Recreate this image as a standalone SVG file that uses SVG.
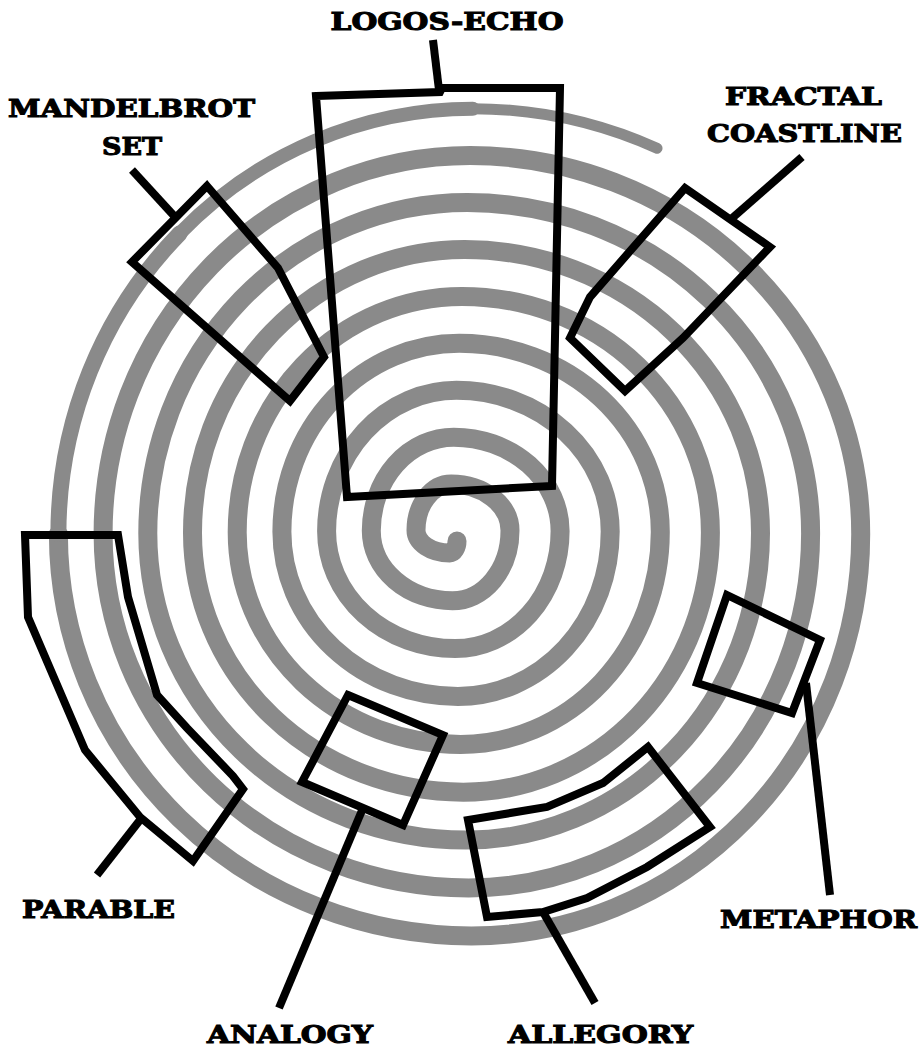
<svg xmlns="http://www.w3.org/2000/svg" width="923" height="1050" viewBox="0 0 923 1050">
<style>
.sp{fill:none;stroke:#8a8a8a;stroke-linecap:round;stroke-linejoin:round}
.box{fill:none;stroke:#000;stroke-width:8;stroke-linejoin:miter}
.con{fill:none;stroke:#000;stroke-width:8;stroke-linecap:butt}
.lbl{font-family:"DejaVu Serif","Liberation Serif",serif;font-weight:bold;font-size:25px;fill:#000;stroke:#000;stroke-width:1.1;text-anchor:middle}
</style>
<rect width="923" height="1050" fill="#fff"/>
<g id="spiral">
<path class="sp" stroke-width="19" d="M 457 541 A 7.2 11.9 0 0 1 449.8 552.9
A 33.8 22.6 0 0 1 416.0 530.3
A 35.1 46.2 0 0 1 451.1 484.1
A 58.9 46.5 0 0 1 510.0 530.6
A 57.5 70.15 0 0 1 452.5 600.75
A 81.2 69.95 0 0 1 371.3 530.8
A 82.5 93.6 0 0 1 453.8 437.2
A 106.3 93.9 0 0 1 560.1 531.1
A 104.9 117.5 0 0 1 455.2 648.6
A 128.6 117.3 0 0 1 326.6 531.3
A 129.9 141.0 0 0 1 456.5 390.3
A 153.7 141.2 0 0 1 610.2 531.5
A 152.3 165.0 0 0 1 457.9 696.5
A 176.0 164.7 0 0 1 281.9 531.8
A 177.3 188.5 0 0 1 459.2 343.3
A 201.1 188.7 0 0 1 660.3 532.0
A 199.7 212.4 0 0 1 460.6 744.4
A 223.4 212.2 0 0 1 237.2 532.2
A 224.7 235.8 0 0 1 461.9 296.4
A 248.5 236.1 0 0 1 710.4 532.5
A 247.1 259.7 0 0 1 463.3 792.2
A 270.8 259.5 0 0 1 192.5 532.7
A 272.1 283.2 0 0 1 464.6 249.5
A 295.9 283.5 0 0 1 760.5 533.0
A 294.5 307.1 0 0 1 466.0 840.1
A 318.2 306.9 0 0 1 147.8 533.2
A 319.6 330.6 0 0 1 467.4 202.6
A 343.2 330.8 0 0 1 810.6 533.4
A 341.9 354.6 0 0 1 468.7 888.0
A 365.6 354.3 0 0 1 103.1 533.7
A 367.0 378.1 0 0 1 470.1 155.6
A 390.6 378.3 0 0 1 860.7 533.9
A 389.3 402.0 0 0 1 471.4 935.9
A 413.0 401.8 0 0 1 58.4 534.1"/>
<path class="sp" stroke-width="16" d="M 58.4 534.1 A 414.4 425.4 0 0 1 179.8 233.3"/>
<path class="sp" stroke-width="14" d="M 179.8 233.3 A 414.4 425.4 0 0 1 472.8 108.7"/>
<path class="sp" stroke-width="11" d="M 472.8 108.7 A 438 425.7 0 0 1 657 148.3"/>
</g>
<g id="connectors">
<line class="con" x1="433" y1="40" x2="439" y2="90"/>
<line class="con" x1="132" y1="170" x2="176" y2="218"/>
<line class="con" x1="802" y1="157" x2="730" y2="220"/>
<line class="con" x1="140" y1="820" x2="97" y2="875"/>
<line class="con" x1="363" y1="808" x2="279" y2="1008"/>
<line class="con" x1="543" y1="912" x2="595" y2="1003"/>
<line class="con" x1="806" y1="683" x2="830" y2="895"/>
</g>
<g id="logos-echo">
<polygon class="box" points="316,96 440,92 442,88 560,88 552,486 347,497"/>
<text class="lbl" x="447" y="30" textLength="233" lengthAdjust="spacingAndGlyphs">LOGOS-ECHO</text>
</g>
<g id="mandelbrot-set">
<polygon class="box" points="207,186 278,268 324,357 290,401 132,262"/>
<text class="lbl" x="131.5" y="117" textLength="247" lengthAdjust="spacingAndGlyphs">MANDELBROT</text>
<text class="lbl" x="132" y="155" textLength="60" lengthAdjust="spacingAndGlyphs">SET</text>
</g>
<g id="fractal-coastline">
<polygon class="box" points="685,188 770,247 683,338 625,391 570,338 590,297"/>
<text class="lbl" x="803.5" y="105" textLength="157" lengthAdjust="spacingAndGlyphs">FRACTAL</text>
<text class="lbl" x="804.5" y="142" textLength="195" lengthAdjust="spacingAndGlyphs">COASTLINE</text>
</g>
<g id="parable">
<polygon class="box" points="25,535 118,535 128,597 157,695 187,728 233,776 243,789 193,861 140,817 85,750 28,617"/>
<text class="lbl" x="98.5" y="918" textLength="153" lengthAdjust="spacingAndGlyphs">PARABLE</text>
</g>
<g id="analogy">
<polygon class="box" points="348,695 443,735 403,825 302,782"/>
<text class="lbl" x="290" y="1043" textLength="166" lengthAdjust="spacingAndGlyphs">ANALOGY</text>
</g>
<g id="allegory">
<polygon class="box" points="648,747 710,827 647,867 587,898 543,912 487,917 468,820 547,807 603,783"/>
<text class="lbl" x="600.5" y="1043" textLength="185" lengthAdjust="spacingAndGlyphs">ALLEGORY</text>
</g>
<g id="metaphor">
<polygon class="box" points="727,595 820,640 792,713 697,683"/>
<text class="lbl" x="818.5" y="928" textLength="197" lengthAdjust="spacingAndGlyphs">METAPHOR</text>
</g>
</svg>
